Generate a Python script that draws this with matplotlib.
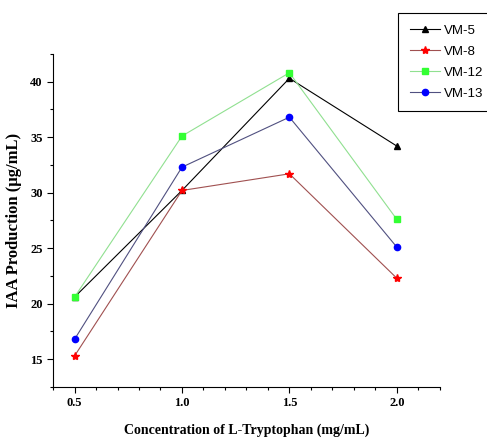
import matplotlib
matplotlib.use('Agg')
import matplotlib.pyplot as plt
from matplotlib.ticker import MultipleLocator

conc = [0.5, 1.0, 1.5, 2.0]
vm5 = [20.6, 30.2, 40.3, 34.2]
vm8 = [15.3, 30.2, 31.7, 22.3]
vm12 = [20.6, 35.1, 40.8, 27.6]
vm13 = [16.8, 32.3, 36.8, 25.1]

fig = plt.figure(figsize=(4.87, 4.38), dpi=100)
ax = fig.add_axes([0.109, 0.1164, 0.794, 0.7606])

ax.plot(conc, vm5, color='black', lw=0.8, marker='^', ms=5, mfc='black', mec='black', label='VM-5')
ax.plot(conc, vm8, color='#a05050', lw=0.8, marker='*', ms=6, mfc='red', mec='red', label='VM-8')
ax.plot(conc, vm12, color='#90e090', lw=0.8, marker='s', ms=4, mfc='#33ff33', mec='#33ff33', label='VM-12')
ax.plot(conc, vm13, color='#505080', lw=0.8, marker='o', ms=4.5, mfc='blue', mec='blue', label='VM-13')

ax.set_xlim(0.4, 2.2)
ax.set_ylim(12.5, 42.5)
ax.xaxis.set_major_locator(MultipleLocator(0.5))
ax.xaxis.set_minor_locator(MultipleLocator(0.1))
ax.yaxis.set_major_locator(MultipleLocator(5))
ax.yaxis.set_minor_locator(MultipleLocator(2.5))
ax.set_xticks(conc)
ax.set_xticklabels(['0.5', '1.0', '1.5', '2.0'])

for s in ['top', 'right']:
    ax.spines[s].set_visible(False)
ax.tick_params(which='major', length=4, width=0.8, labelsize=9)
ax.tick_params(which='minor', length=2.5, width=0.8)
for lbl in ax.get_xticklabels() + ax.get_yticklabels():
    lbl.set_family('Liberation Serif')
    lbl.set_fontweight('bold')

ax.set_xlabel('Concentration of L-Tryptophan (mg/mL)', family='Liberation Serif',
              fontweight='bold', fontsize=10, labelpad=10)
ax.set_ylabel('IAA Production (µg/mL)', family='Liberation Serif',
              fontweight='bold', fontsize=12, labelpad=6)

leg = fig.legend(loc='upper left', bbox_to_anchor=(398 / 487, 1 - 13 / 438),
                 prop={'family': 'Liberation Sans', 'size': 9.5},
                 fancybox=False, edgecolor='black', framealpha=1,
                 handlelength=2.3, handletextpad=0.3, borderpad=0.9,
                 borderaxespad=0, labelspacing=0.65)
leg.get_frame().set_linewidth(0.8)

fig.savefig('out.png', dpi=100)
